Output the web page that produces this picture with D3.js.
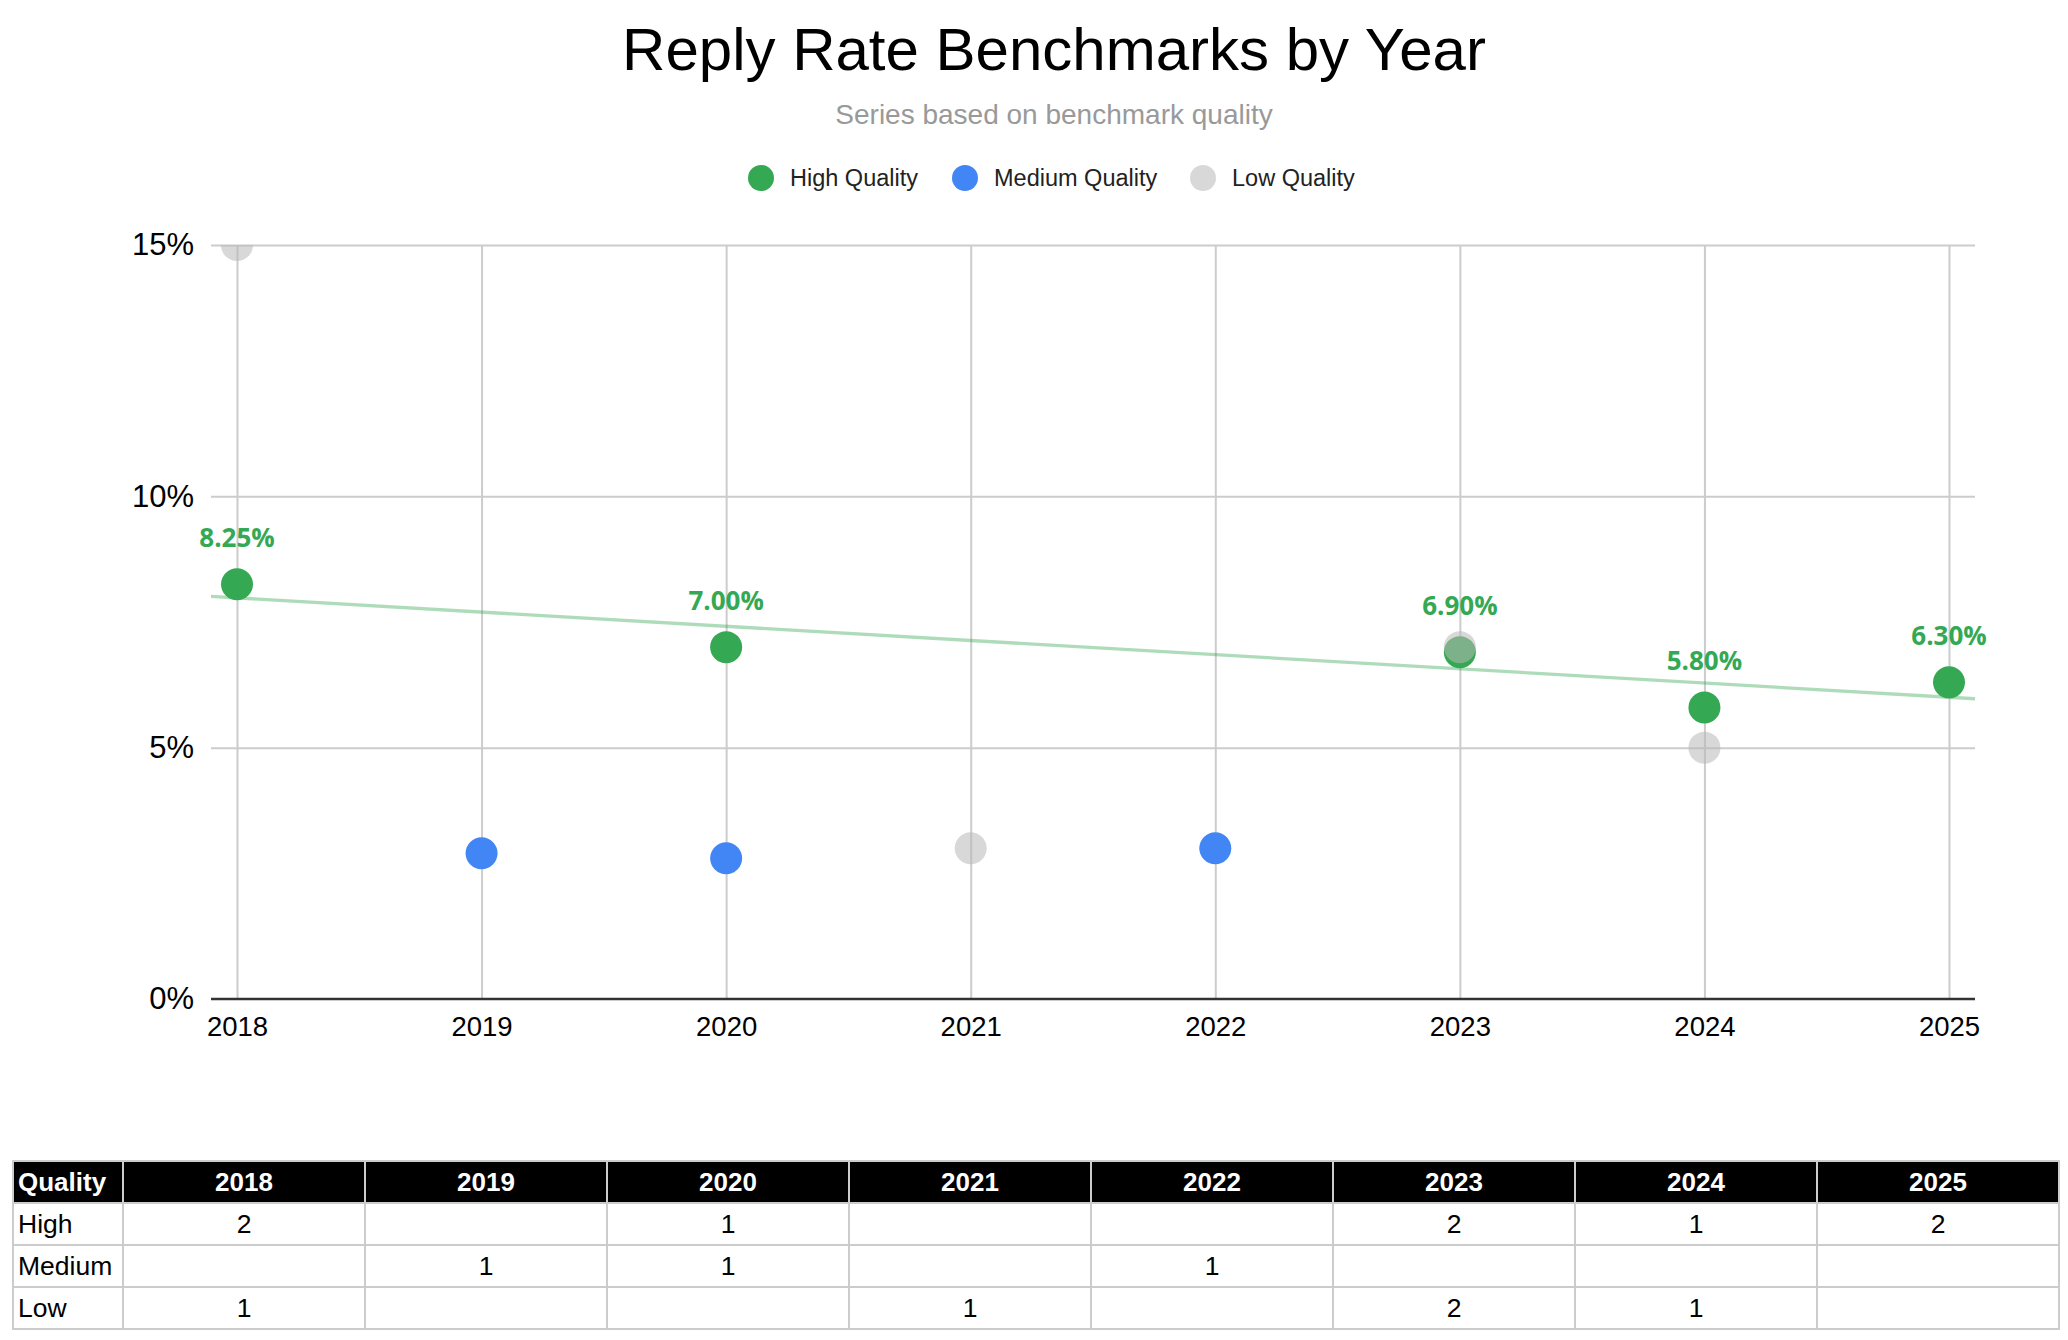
<!DOCTYPE html>
<html>
<head>
<meta charset="utf-8">
<script src="https://cdn.jsdelivr.net/npm/d3@7"></script>
<style>
  body { margin: 0; background: #fff; }
  svg text { font-family: "Liberation Sans", Arial, sans-serif; }
  .label { font-family: "Open Sans", "Noto Sans", sans-serif; font-weight: 700; }
</style>
</head>
<body>
<svg id="chart" width="2068" height="1340"></svg>
<script>
// Years on the x axis.
var years = [2018, 2019, 2020, 2021, 2022, 2023, 2024, 2025];

// Reply rates (%).
var highQuality = [
  { year: 2018, value: 8.25 },
  { year: 2020, value: 7.00 },
  { year: 2023, value: 6.90 },
  { year: 2024, value: 5.80 },
  { year: 2025, value: 6.30 }
];
var mediumQuality = [
  { year: 2019, value: 2.9 },
  { year: 2020, value: 2.8 },
  { year: 2022, value: 3.0 }
];
var lowQuality = [
  { year: 2018, value: 15.0 },
  { year: 2021, value: 3.0 },
  { year: 2023, value: 7.0 },
  { year: 2024, value: 5.0 }
];

var yTicks = [0, 5, 10, 15];

// Benchmark counts shown in the table under the chart.
var tableRows = ['High', 'Medium', 'Low'];
var highCounts   = [2, '', 1, '', '', 2, 1, 2];
var mediumCounts = ['', 1, 1, '', 1, '', '', ''];
var lowCounts    = [1, '', '', 1, '', 2, 1, ''];

var series = [
  { name: 'High Quality', data: highQuality, color: '#34A853', opacity: 1 },
  { name: 'Medium Quality', data: mediumQuality, color: '#4285F4', opacity: 1 },
  { name: 'Low Quality', data: lowQuality, color: '#b8b8b8', opacity: 0.55 }
];

var svg = d3.select('#chart');

var plot = { left: 211, right: 1975, top: 245, bottom: 999 };

var x = d3.scaleLinear().domain(d3.extent(years)).range([237, 1949]);
var y = d3.scaleLinear().domain([0, 15]).range([plot.bottom, plot.top]);

// Title and subtitle.
svg.append('text')
  .attr('x', 1054).attr('y', 70)
  .attr('text-anchor', 'middle')
  .style('font-size', '60px')
  .style('fill', '#000')
  .text('Reply Rate Benchmarks by Year');

svg.append('text')
  .attr('x', 1054).attr('y', 124)
  .attr('text-anchor', 'middle')
  .style('font-size', '28px')
  .style('fill', '#999')
  .text('Series based on benchmark quality');

// Legend.
var legendX = [761, 965, 1203];
var legend = svg.append('g').attr('class', 'legend');
series.forEach(function(s, i) {
  legend.append('circle')
    .attr('cx', legendX[i]).attr('cy', 178).attr('r', 13)
    .style('fill', s.color)
    .style('fill-opacity', s.opacity);
  legend.append('text')
    .attr('x', legendX[i] + 29).attr('y', 186)
    .style('font-size', '23.5px')
    .style('fill', '#222')
    .text(s.name);
});

// Grid.
var grid = svg.append('g').attr('class', 'grid');

grid.append('g')
  .attr('transform', 'translate(0,' + plot.bottom + ')')
  .call(d3.axisBottom(x).tickValues(years).tickFormat('')
    .tickSizeInner(-(plot.bottom - plot.top)).tickSizeOuter(0))
  .call(function(g) { g.select('.domain').remove(); })
  .selectAll('line').style('stroke', '#ccc').style('stroke-width', 2);

grid.append('g')
  .attr('transform', 'translate(' + plot.left + ',0)')
  .call(d3.axisLeft(y).tickValues(yTicks.slice(1)).tickFormat('')
    .tickSizeInner(-(plot.right - plot.left)).tickSizeOuter(0))
  .call(function(g) { g.select('.domain').remove(); })
  .selectAll('line').style('stroke', '#ccc').style('stroke-width', 2);

// Axis labels.
var yAxis = svg.append('g')
  .attr('class', 'y axis')
  .attr('transform', 'translate(' + plot.left + ',0)')
  .call(d3.axisLeft(y).tickValues(yTicks).tickFormat(function(d) { return d + '%'; })
    .tickSize(0).tickPadding(17));
yAxis.select('.domain').remove();
yAxis.selectAll('text')
  .style('font-size', '31px')
  .style('fill', '#000')
  .style('font-family', '"Liberation Sans", Arial, sans-serif');

var xAxis = svg.append('g')
  .attr('class', 'x axis')
  .attr('transform', 'translate(0,' + plot.bottom + ')')
  .call(d3.axisBottom(x).tickValues(years).tickFormat(d3.format('d'))
    .tickSize(0).tickPadding(17));
xAxis.select('.domain').remove();
xAxis.selectAll('text')
  .style('font-size', '27.5px')
  .style('fill', '#000')
  .style('font-family', '"Liberation Sans", Arial, sans-serif');

// Baseline.
svg.append('line')
  .attr('x1', plot.left).attr('x2', plot.right)
  .attr('y1', y(0)).attr('y2', y(0))
  .style('stroke', '#333').style('stroke-width', 2.5);

// Clip to the plot area.
svg.append('clipPath').attr('id', 'plot-clip')
  .append('rect')
  .attr('x', plot.left).attr('y', plot.top)
  .attr('width', plot.right - plot.left).attr('height', plot.bottom - plot.top);

var marks = svg.append('g').attr('clip-path', 'url(#plot-clip)');

// Linear trend for the high quality series (least squares).
var mx = d3.mean(highQuality, function(d) { return d.year; });
var my = d3.mean(highQuality, function(d) { return d.value; });
var slope = d3.sum(highQuality, function(d) { return (d.year - mx) * (d.value - my); }) /
            d3.sum(highQuality, function(d) { return (d.year - mx) * (d.year - mx); });
var trendYears = [x.invert(plot.left), x.invert(plot.right)];

marks.append('path')
  .datum(trendYears)
  .attr('d', d3.line()
    .x(function(d) { return x(d); })
    .y(function(d) { return y(my + slope * (d - mx)); }))
  .style('fill', 'none')
  .style('stroke', '#34A853')
  .style('stroke-opacity', 0.4)
  .style('stroke-width', 3.3);

// Points.
series.forEach(function(s) {
  marks.append('g')
    .selectAll('circle')
    .data(s.data)
    .enter().append('circle')
    .attr('cx', function(d) { return x(d.year); })
    .attr('cy', function(d) { return y(d.value); })
    .attr('r', 16)
    .style('fill', s.color)
    .style('fill-opacity', s.opacity);
});

// Data labels for the high quality series.
svg.append('g')
  .selectAll('text')
  .data(highQuality)
  .enter().append('text')
  .attr('class', 'label')
  .attr('x', function(d) { return x(d.year); })
  .attr('y', function(d) { return y(d.value) - 37; })
  .attr('text-anchor', 'middle')
  .style('font-size', '26px')
  .style('fill', '#34A853')
  .text(function(d) { return d.value.toFixed(2) + '%'; });

// Table.
var table = { left: 13, top: 1161, firstCol: 110, col: 242, row: 42 };
var counts = [highCounts, mediumCounts, lowCounts];
var tg = svg.append('g').attr('class', 'table');

function colX(i) { return i === 0 ? table.left : table.left + table.firstCol + (i - 1) * table.col; }
function colW(i) { return i === 0 ? table.firstCol : table.col; }

var header = ['Quality'].concat(years);
header.forEach(function(h, i) {
  tg.append('rect')
    .attr('x', colX(i)).attr('y', table.top)
    .attr('width', colW(i)).attr('height', table.row)
    .style('fill', '#000').style('stroke', '#ccc').style('stroke-width', 2);
  tg.append('text')
    .attr('x', i === 0 ? colX(i) + 5 : colX(i) + colW(i) / 2)
    .attr('y', table.top + table.row / 2 + 9)
    .attr('text-anchor', i === 0 ? 'start' : 'middle')
    .style('font-size', '26px').style('font-weight', 700).style('fill', '#fff')
    .text(h);
});

tableRows.forEach(function(r, ri) {
  var cells = [r].concat(counts[ri]);
  var top = table.top + (ri + 1) * table.row;
  cells.forEach(function(c, i) {
    tg.append('rect')
      .attr('x', colX(i)).attr('y', top)
      .attr('width', colW(i)).attr('height', table.row)
      .style('fill', '#fff').style('stroke', '#ccc').style('stroke-width', 2);
    tg.append('text')
      .attr('x', i === 0 ? colX(i) + 5 : colX(i) + colW(i) / 2)
      .attr('y', top + table.row / 2 + 9)
      .attr('text-anchor', i === 0 ? 'start' : 'middle')
      .style('font-size', '26.5px').style('fill', '#000')
      .text(c);
  });
});
</script>
</body>
</html>
